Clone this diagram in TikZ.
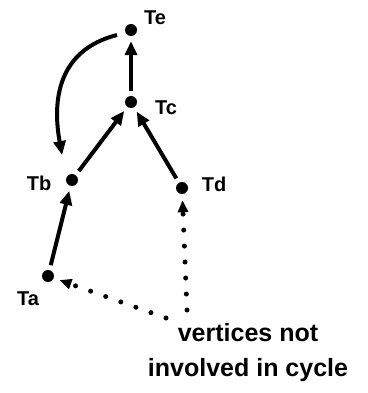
\documentclass[tikz,border=0pt]{standalone}
\usepackage{fontspec}
\setmainfont{Liberation Sans}
\usetikzlibrary{arrows.meta}
\begin{document}
\begin{tikzpicture}[x=1pt,y=-1pt,
  vtx/.style={circle,fill=black,inner sep=0pt,minimum size=12pt},
  lbl/.style={font=\bfseries\fontsize{20}{20}\selectfont,inner sep=0pt},
  edge/.style={line width=4pt,-{Triangle[length=14pt,width=12pt]},shorten >=5pt,shorten <=5pt},
  dotedge/.style={line width=5pt,line cap=round,dash pattern=on 0pt off 16pt,-{Triangle[length=12pt,width=10pt]},shorten >=6pt},
  note/.style={font=\bfseries\fontsize{25}{35}\selectfont,align=center,inner sep=0pt}]
\useasboundingbox (0,0) rectangle (367,393);
\node[vtx] (te) at (131,30) {};
\node[vtx] (tc) at (131,102) {};
\node[vtx] (tb) at (72,180) {};
\node[vtx] (td) at (182,188) {};
\node[vtx] (ta) at (48,276) {};
\node[lbl] (lte) at (155,18) {Te};
\node[lbl] (ltc) at (166,108) {Tc};
\node[lbl] (ltb) at (39,183) {Tb};
\node[lbl] (ltd) at (214,184) {Td};
\node[lbl] (lta) at (28,299) {Ta};
\node[note] (note) at (248,353) {vertices not\\involved in cycle};
\coordinate (s1) at (187,310);
\coordinate (s2) at (166,318);
\coordinate (c0) at (117,35);
\draw[edge] (tc) -- (te);
\draw[edge] (tb) -- (tc);
\draw[edge] (td) -- (tc);
\draw[edge] (ta) -- (tb);
\draw[edge,shorten <=0pt] (c0) .. controls (58,50) and (52,100) .. (63,160);
\draw[dotedge] (s1) -- (td);
\draw[dotedge] (s2) -- (ta);
\end{tikzpicture}
\end{document}
